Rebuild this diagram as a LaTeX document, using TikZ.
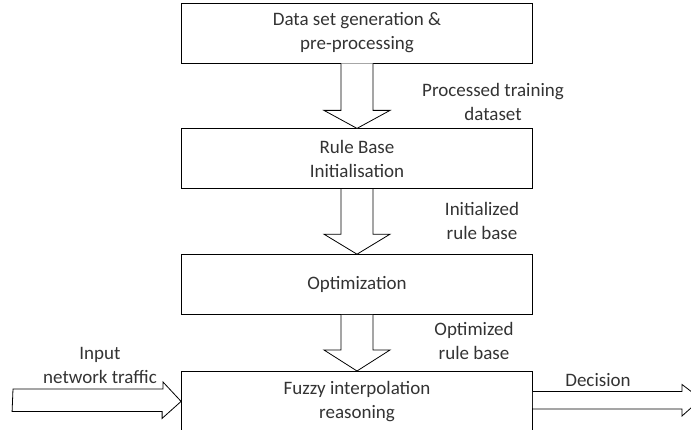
\documentclass[tikz,border=0pt]{standalone}
\usepackage{fontspec}
\setmainfont{Carlito}
\usepackage{tikz}
\usetikzlibrary{positioning}
\definecolor{inkgray}{HTML}{333333}

% hollow block arrow between two stacked boxes
\newcommand{\hollowdown}[4]{\draw[blockarrow] (#1.south) ++(-16,0) -- ++(0,#3)
  -- ++(-17,0) -- (#2.north) -- ++(33,-#4) -- ++(-17,0) -- ++(0,-#3);}

\begin{document}
\begin{tikzpicture}[x=1pt,y=-1pt,node distance=65pt,
  box/.style={draw,minimum width=351pt,minimum height=60pt,align=center,
    inner sep=0pt,line width=0.8pt},
  lbl/.style={align=center,inner sep=0pt},
  blockarrow/.style={draw,fill=white,line width=0.8pt},
  every node/.style={font=\fontsize{19}{24}\selectfont,text=inkgray}]
\useasboundingbox (0,0) rectangle (691,430);
\node[box] (gen) at (357,33) {Data set generation \&\\pre-processing};
\node[box,below=of gen] (init) {Rule Base\\Initialisation};
\node[box,below=of init] (opt) {Optimization};
\node[box,below=56pt of opt] (fir) {Fuzzy interpolation\\reasoning};
\node[lbl] (ptd) at (493,102) {Processed training\\dataset};
\node[lbl] (irb) at (482,221) {Initialized\\rule base};
\node[lbl] (orb) at (474,341) {Optimized\\rule base};
\node[lbl] (inp) at (100,365) {Input\\network traffic};
\node[lbl] (dec) at (598,380) {Decision};
\coordinate (src) at (13,399);
\coordinate (out) at (701,399);
\hollowdown{gen}{init}{47}{18}
\hollowdown{init}{opt}{45}{20}
\hollowdown{opt}{fir}{35}{21}
\draw[blockarrow] (src) ++(0,-10) -- ++(150,0) -- ++(0,-7) -- (fir.west)
  -- ++(-19,17) -- ++(0,-7) -- ++(-150,0) -- cycle;
\draw[blockarrow] (fir.east) ++(0,-10) -- ++(149,0) -- ++(0,-7) -- (out)
  -- ++(-19,17) -- ++(0,-7) -- ++(-149,0);
\end{tikzpicture}
\end{document}
